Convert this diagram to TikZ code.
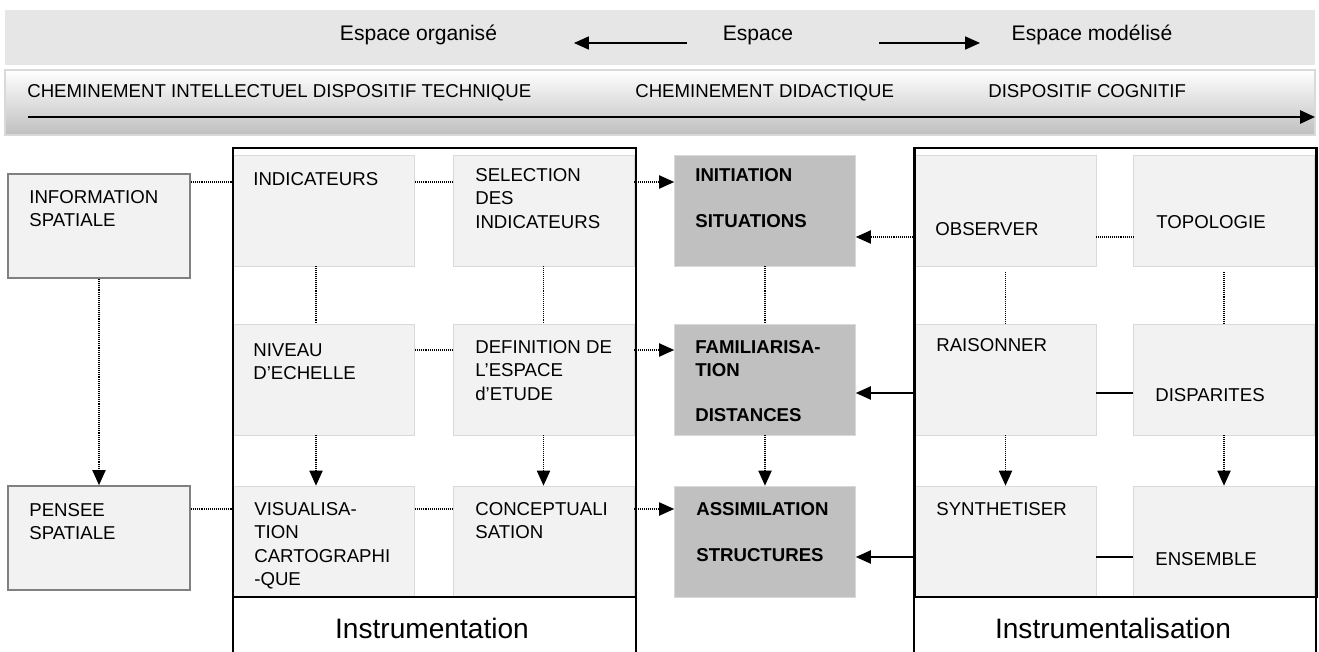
\documentclass[tikz,border=0pt]{standalone}
\usepackage{fontspec}
\setmainfont{Liberation Sans}
\usetikzlibrary{arrows.meta,calc}
\definecolor{boxgray}{HTML}{F2F2F2}
\definecolor{boxline}{HTML}{D9D9D9}
\definecolor{midgray}{HTML}{C0C0C0}
\definecolor{bandgray}{HTML}{E6E6E6}
\definecolor{sidegray}{HTML}{808080}
\tikzset{
  box/.style={draw=boxline, fill=boxgray, minimum width=3.62cm,
    minimum height=2.22cm, inner sep=0pt},
  darkbox/.style={box, fill=midgray},
  sidebox/.style={draw=sidegray, fill=boxgray, line width=1pt,
    minimum width=3.64cm, minimum height=2.08cm, inner sep=0pt},
  txt/.style={anchor=north west, inner sep=0pt, align=left,
    font=\fontsize{10.6}{13.4}\selectfont},
  bold/.style={font=\fontsize{10.6}{13}\selectfont\bfseries},
  top/.style={anchor=base, font=\fontsize{12}{14}\selectfont},
  band/.style={anchor=base west, inner sep=0pt, font=\fontsize{10.6}{12}\selectfont},
  dots/.style={dash pattern=on .5pt off .6pt, line width=.7pt},
  arr/.style={-{Triangle[length=8.5pt,width=7.5pt]}},
}

\begin{document}
\begin{tikzpicture}[x=0.02cm, y=-0.02cm]
    \useasboundingbox (0,0) rectangle (1319,652);% page size
    % top band
    \fill[bandgray] (5,10) rectangle (1315,65);% espace band
    \node[top] (org) at (418.5,41) {Espace organisé};
    \node[top] (esp) at (758,41) {Espace};
    \node[top] (mod) at (1092,41) {Espace modélisé};
    \coordinate (a1) at (687,43);
    \coordinate (a2) at (574,43);
    \coordinate (a3) at (879,43);
    \coordinate (a4) at (980,43);
    \draw[arr, line width=.6pt] (a1) -- (a2);% towards espace organise
    \draw[arr, line width=.6pt] (a3) -- (a4);% towards espace modelise
    % second band
    \shade[draw=boxline, line width=1pt, top color=white, middle color=gray!8,
        bottom color=gray!50] (5,70) rectangle (1315,135);
    \node[band] (chI) at (27,98) {CHEMINEMENT INTELLECTUEL DISPOSITIF TECHNIQUE};
    \node[band] (chD) at (635,98) {CHEMINEMENT DIDACTIQUE};
    \node[band] (dC) at (988,98) {DISPOSITIF COGNITIF};
    \coordinate (b1) at (28,117);
    \coordinate (b2) at (1315,117);
    \draw[line width=1.2pt, arr] (b1) -- (b2);% band arrow
    % side boxes
    \node[sidebox] (info) at (99,226) {};
    \node[sidebox] (pensee) at (99,538) {};
    % row 1
    \node[box] (indic) at (324,210.5) {};
    \node[box] (selec) at (543.5,210.5) {};
    \node[darkbox] (initi) at (765,210.5) {};
    \node[box] (observ) at (1005.5,210.5) {};
    \node[box] (topo) at (1224,210.5) {};
    % row 2
    \node[box] (niveau) at (324,379.5) {};
    \node[box] (defin) at (543.5,379.5) {};
    \node[darkbox] (famil) at (765,379.5) {};
    \node[box] (raison) at (1005.5,379.5) {};
    \node[box] (dispar) at (1224,379.5) {};
    % row 3
    \node[box] (visu) at (324,541.5) {};
    \node[box] (concept) at (543.5,541.5) {};
    \node[darkbox] (assim) at (765,541.5) {};
    \node[box] (synth) at (1005.5,541.5) {};
    \node[box] (ensem) at (1224,541.5) {};
    % texts
    \node[txt] (infoT) at (29,190) {INFORMATION\\SPATIALE};
    \node[txt] (penseeT) at (29,503) {PENSEE\\SPATIALE};
    \node[txt] (indicT) at (253,172) {INDICATEURS};
    \node[txt] (selecT) at (475,168) {SELECTION\\DES\\INDICATEURS};
    \node[txt, bold] (initiT) at (695,168) {INITIATION\\[13pt]SITUATIONS};
    \node[txt] (observT) at (935,222) {OBSERVER};
    \node[txt] (topoT) at (1156,215) {TOPOLOGIE};
    \node[txt] (niveauT) at (253,343) {NIVEAU\\D’ECHELLE};
    \node[txt] (definT) at (475,340) {DEFINITION DE\\L’ESPACE\\d’ETUDE};
    \node[txt, bold] (familT) at (695,340) {FAMILIARISA-\\TION\\[13pt]DISTANCES};
    \node[txt] (raisonT) at (936,338) {RAISONNER};
    \node[txt] (disparT) at (1155,388) {DISPARITES};
    \node[txt] (visuT) at (254,502) {VISUALISA-\\TION\\CARTOGRAPHI\\-QUE};
    \node[txt] (conceptT) at (475,502) {CONCEPTUALI\\SATION};
    \node[txt, bold] (assimT) at (696,502) {ASSIMILATION\\[13pt]STRUCTURES};
    \node[txt] (synthT) at (936,502) {SYNTHETISER};
    \node[txt] (ensemT) at (1155,552) {ENSEMBLE};
    % frames
    \draw[line width=1.7pt] (233,148) rectangle (636,597);% instrumentation
    \draw[line width=1.7pt] (914,148) rectangle (1316,597);% instrumentalisation
    \draw[line width=.6pt] (233,597) rectangle (636,680);
    \draw[line width=.6pt] (914,597) rectangle (1316,680);
    \node[font=\fontsize{16}{19}\selectfont] (instr) at (432,628) {Instrumentation};
    \node[font=\fontsize{16}{19}\selectfont] (instrl) at (1113,628) {Instrumentalisation};
    % dotted links
    \draw[dots] (info.east |- 0,182) -- (indic.west |- 0,182);
    \draw[dots] (indic.east |- 0,182) -- (selec.west |- 0,182);
    \draw[dots] (316,0 |- indic.south) -- (316,0 |- niveau.north);
    \draw[dots] (selec.south) -- (defin.north);
    \draw[dots] (initi.south) -- (famil.north);
    \draw[dots] (niveau.east |- 0,350) -- (defin.west |- 0,350);
    \draw[dots] (observ.east |- 0,237) -- (topo.west |- 0,237);
    \draw[dots] (observ.south) ++(0,6) -- (raison.north);
    \draw[dots] (topo.south) ++(0,6) -- (dispar.north);
    \draw[dots] (pensee.east |- 0,509) -- (visu.west |- 0,509);
    \draw[dots] (visu.east |- 0,509) -- (concept.west |- 0,509);
    % dotted arrows
    \draw[dots, arr] (info.south) -- (pensee.north);
    \draw[dots, arr] (selec.east |- 0,182) -- (initi.west |- 0,182);
    \draw[dots, arr] (observ.west |- 0,237) -- (initi.east |- 0,237);
    \draw[dots, arr] (defin.east |- 0,350) -- (famil.west |- 0,350);
    \draw[dots, arr] (316,0 |- niveau.south) -- (316,0 |- visu.north);
    \draw[dots, arr] (defin.south) -- (concept.north);
    \draw[dots, arr] (famil.south) -- (assim.north);
    \draw[dots, arr] (concept.east |- 0,509) -- (assim.west |- 0,509);
    \draw[dots, arr] (raison.south) -- (synth.north);
    \draw[dots, arr] (dispar.south) -- (ensem.north);
    % solid links
    \draw[line width=.8pt, arr] (raison.west |- 0,393) -- (famil.east |- 0,393);
    \draw[line width=.8pt] (raison.east |- 0,393) -- (dispar.west |- 0,393);
    \draw[line width=.8pt, arr] (synth.west |- 0,557) -- (assim.east |- 0,557);
    \draw[line width=.8pt] (synth.east |- 0,557) -- (ensem.west |- 0,557);
\end{tikzpicture}
\end{document}
